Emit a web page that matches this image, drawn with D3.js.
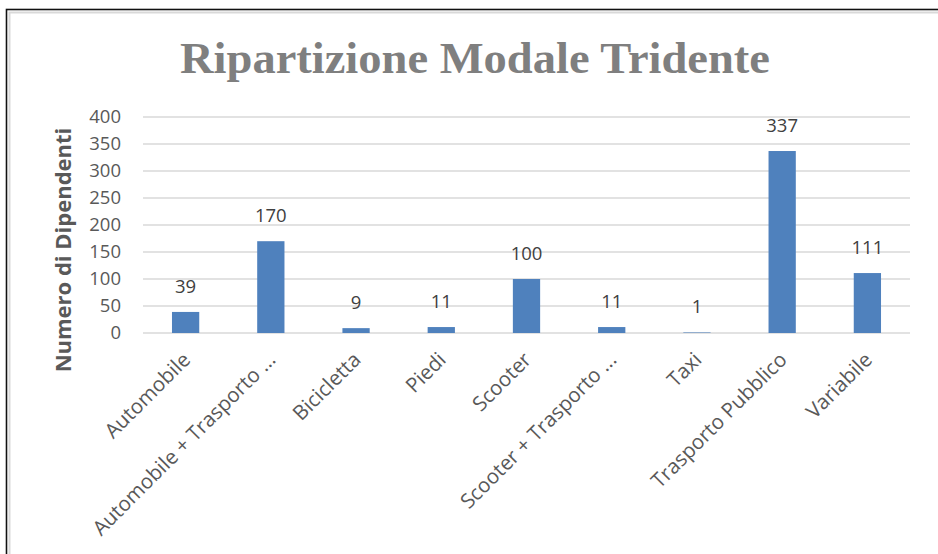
<!DOCTYPE html>
<html>
<head>
<meta charset="utf-8">
<script src="https://cdn.jsdelivr.net/npm/d3@7"></script>
<style>
  body { margin: 0; background: #fff; }
  svg { display: block; }
</style>
</head>
<body>
<svg id="chart" width="938" height="554"></svg>
<script>
// values
const categories = ["Automobile", "Automobile + Trasporto ...", "Bicicletta", "Piedi", "Scooter",
                    "Scooter + Trasporto ...", "Taxi", "Trasporto Pubblico", "Variabile"];
const dipendenti = [39, 170, 9, 11, 100, 11, 1, 337, 111];
const yTicks = [0, 50, 100, 150, 200, 250, 300, 350, 400];

const svg = d3.select("#chart");
const W = 938, H = 554;
const m = {left: 143, right: 28, top: 117, bottom: 221};

// frame (only top and left show in the shot)
svg.append("rect").attr("x", 6.5).attr("y", 9.5).attr("width", W + 10).attr("height", H + 10)
    .attr("fill", "none").attr("stroke", "#111").attr("stroke-width", 1.6);
svg.append("rect").attr("x", 9.5).attr("y", 12.5).attr("width", W + 10).attr("height", H + 10)
    .attr("fill", "none").attr("stroke", "#d9d9d9").attr("stroke-width", 2);

let x = d3.scaleBand().domain(categories).range([m.left, W - m.right]).paddingInner(0.68).paddingOuter(0.34);
let y = d3.scaleLinear().domain([0, 400]).range([H - m.bottom, m.top]);

// gridlines
svg.append("g").selectAll("line").data(yTicks).join("line")
    .attr("x1", m.left).attr("x2", W - m.right)
    .attr("y1", d => y(d)).attr("y2", d => y(d))
    .attr("stroke", "#d9d9d9").attr("stroke-width", 1.5);

// y tick labels
let yAxis = svg.append("g").attr("transform", `translate(${m.left - 22},0)`)
    .call(d3.axisLeft(y).tickValues(yTicks).tickSize(0).tickPadding(0));
yAxis.select(".domain").remove();
yAxis.selectAll("text").attr("font-family", "Open Sans").attr("font-size", 18.5).attr("fill", "#595959");

// bars
svg.append("g").selectAll("rect").data(dipendenti).join("rect")
    .attr("x", (d, i) => x(categories[i])).attr("width", x.bandwidth())
    .attr("y", d => y(d)).attr("height", d => y(0) - y(d))
    .attr("fill", "#4f81bd");

// data labels
svg.append("g").selectAll("text").data(dipendenti).join("text")
    .attr("x", (d, i) => x(categories[i]) + x.bandwidth() / 2).attr("y", d => y(d) - 19)
    .attr("text-anchor", "middle").attr("font-family", "Open Sans").attr("font-size", 18.5)
    .attr("fill", "#404040").text(d => d);

// x labels, rotated
let xAxis = svg.append("g").attr("transform", `translate(0,${H - m.bottom})`)
    .call(d3.axisBottom(x).tickSize(0).tickPadding(0));
xAxis.select(".domain").remove();
xAxis.selectAll("text")
    .attr("font-family", "Open Sans").attr("font-size", 20.5).attr("fill", "#595959")
    .attr("text-anchor", "end").attr("dy", 0)
    .attr("transform", "translate(6,28) rotate(-45)");

// axis title
svg.append("text").attr("transform", "translate(71,250) rotate(-90)")
    .attr("text-anchor", "middle").attr("font-family", "Open Sans").attr("font-weight", "bold")
    .attr("font-size", 22).attr("fill", "#595959").text("Numero di Dipendenti");

// chart title
svg.append("text").attr("x", 475).attr("y", 73).attr("text-anchor", "middle")
    .attr("font-family", "Liberation Serif").attr("font-weight", "bold").attr("font-size", 44)
    .attr("textLength", 590).attr("lengthAdjust", "spacingAndGlyphs")
    .attr("fill", "#7f7f7f").text("Ripartizione Modale Tridente");
</script>
</body>
</html>
